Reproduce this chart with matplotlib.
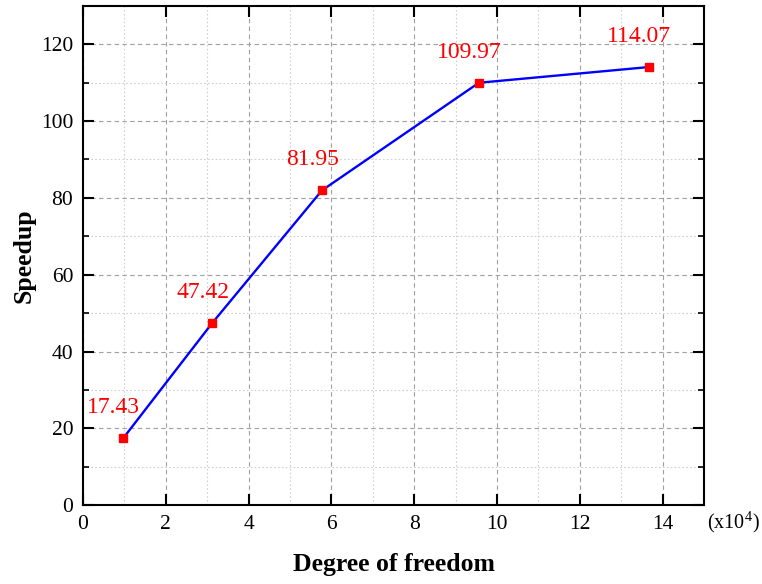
import matplotlib.pyplot as plt
from matplotlib.ticker import MultipleLocator

plt.rcParams['font.family'] = ['Liberation Serif', 'DejaVu Serif']
plt.rcParams['mathtext.fontset'] = 'stix'

# degree of freedom (x10^4) and measured speedup
dof = [0.97, 3.12, 5.77, 9.56, 13.67]
speedup = [17.43, 47.42, 81.95, 109.97, 114.07]
speedup_labels = ['17.43', '47.42', '81.95', '109.97', '114.07']

fig = plt.figure(figsize=(7.62, 5.84), dpi=100)
ax = fig.add_axes([0.109, 0.135, 0.815, 0.855])

ax.plot(dof, speedup, color='blue', linewidth=1.7, zorder=3)
ax.plot(dof, speedup, linestyle='none', marker='s', markersize=5.5,
        color='red', zorder=4)

for x, y, lab in zip(dof, speedup, speedup_labels):
    ax.annotate(lab, (x, y), xytext=(-7, 22), textcoords='offset points',
                ha='center', va='center', color='red', fontsize=17)

ax.set_xlim(0, 15)
ax.set_ylim(0, 130)
ax.xaxis.set_major_locator(MultipleLocator(2))
ax.xaxis.set_minor_locator(MultipleLocator(1))
ax.yaxis.set_major_locator(MultipleLocator(20))
ax.yaxis.set_minor_locator(MultipleLocator(10))

ax.grid(which='major', linestyle=(0, (4, 3)), color='#a0a0a0', linewidth=0.8)
ax.grid(which='minor', linestyle=(0, (1.5, 2)), color='#d0d0d0', linewidth=0.8)
ax.set_axisbelow(True)

ax.tick_params(which='major', direction='in', length=8, width=1.5,
               top=True, right=True, labelsize=15.5, pad=7)
ax.tick_params(axis='y', which='minor', direction='in', length=4, width=1.2,
               right=True)
ax.tick_params(axis='x', which='minor', length=0)
for s in ax.spines.values():
    s.set_linewidth(1.5)

ax.set_xlabel('Degree of freedom', fontsize=18.5, fontweight='bold', labelpad=14)
ax.set_ylabel('Speedup', fontsize=18.5, fontweight='bold', labelpad=4)
ax.text(1.004, -0.035, r'(x10$^{\mathregular{4}}$)', transform=ax.transAxes,
        ha='left', va='center', fontsize=14.5)

plt.savefig('out.png')
